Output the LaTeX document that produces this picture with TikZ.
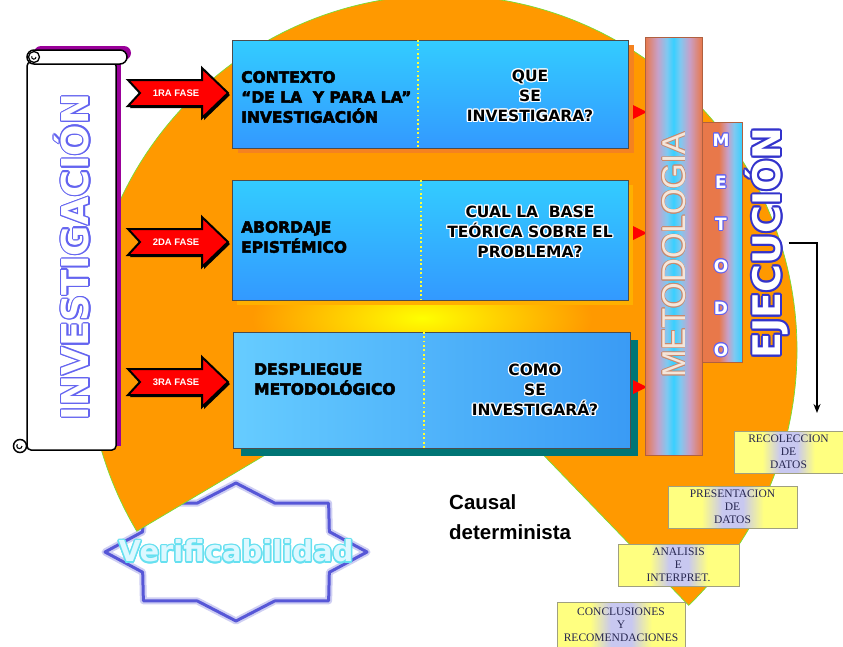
\documentclass[tikz,border=0pt]{standalone}
\usepackage{fontspec}
\setmainfont{Liberation Sans}
\newfontfamily\blk{DejaVu Sans}
\newfontfamily\serifx{Liberation Serif}
\usetikzlibrary{arrows.meta,shadows}
\definecolor{orng}{HTML}{FF9900}
\definecolor{pieline}{HTML}{77DD33}
\definecolor{cyanA}{HTML}{33CCFF}
\definecolor{blueA}{HTML}{3399FF}
\definecolor{lblueA}{HTML}{66CCFF}
\definecolor{blueB}{HTML}{3A9BF5}
\definecolor{shorng}{HTML}{F5821F}
\definecolor{shyell}{HTML}{FFB000}
\definecolor{shteal}{HTML}{007575}
\definecolor{metO}{HTML}{E8784A}
\definecolor{lavpink}{HTML}{C8A0C8}
\definecolor{lblue}{HTML}{80C8F0}
\definecolor{cyanB}{HTML}{38D0FF}
\definecolor{brn}{HTML}{B06040}
\definecolor{purp}{HTML}{990099}
\definecolor{yelb}{HTML}{FFFF80}
\definecolor{lav}{HTML}{C8C8F0}
\definecolor{ytxt}{HTML}{262650}
\definecolor{yborder}{HTML}{A0A080}
\definecolor{invO}{HTML}{6464F0}
\definecolor{ejB}{HTML}{3333CC}
\definecolor{verF}{HTML}{DDF8FF}
\definecolor{verO}{HTML}{66E0F0}
\definecolor{metT}{HTML}{F4E6DA}
\definecolor{metH}{HTML}{C88A70}
\definecolor{starB}{HTML}{3A3AD0}
\definecolor{divY}{HTML}{FFFF33}
\pgfdeclarehorizontalshading{metshade}{100bp}{color(0bp)=(metO); color(25bp)=(metO); color(36bp)=(lavpink); color(44bp)=(lblue); color(50bp)=(cyanB); color(56bp)=(lblue); color(64bp)=(lavpink); color(75bp)=(metO); color(100bp)=(metO)}
\pgfdeclarehorizontalshading{metodoshade}{100bp}{color(0bp)=(metO); color(25bp)=(metO); color(46bp)=(metO); color(57bp)=(lavpink); color(65bp)=(lblue); color(75bp)=(cyanB); color(100bp)=(cyanB)}
\pgfdeclarehorizontalshading{yshade}{100bp}{color(0bp)=(yelb); color(25bp)=(yelb); color(38bp)=(yelb); color(46bp)=(lav); color(54bp)=(lav); color(62bp)=(yelb); color(75bp)=(yelb); color(100bp)=(yelb)}
% heavier text: fill + thin stroke in the same colour
\newcommand\fillstroke[3]{\special{pdf:literal direct #1 RG #2 w 1 j 2 Tr}#3\special{pdf:literal direct 0 Tr}}
% halo: copies of the text around it, then the text itself
\newcommand\halonode[6]{%
  \foreach \ang in {0,30,...,330}{\node[#2,text=#4,shift={(\ang:#5)}] at #3 {#6};}
  \node[#2] (#1) at #3 {#6};}
\tikzset{
  bx/.style={draw=gray!60!black, line width=0.6pt, minimum width=396pt, inner sep=0pt},
  divline/.style={divY, line width=1.6pt, dash pattern=on 1.8pt off 2.6pt},
  ltxt/.style={font=\blk\bfseries\fontsize{15.5}{20}\selectfont, align=left, anchor=west, inner sep=0pt, text=black},
  rtxt/.style={font=\blk\bfseries\fontsize{15.5}{20}\selectfont, align=center, inner sep=0pt, text=black},
  fasetxt/.style={font=\bfseries\fontsize{9.5}{10}\selectfont, text=white, inner sep=0pt},
  ybox/.style={draw=yborder, line width=0.8pt, shading=yshade, font=\serifx\fontsize{11.5}{12.8}\selectfont, text=ytxt, align=center, inner sep=0pt, minimum height=42pt},
  metletter/.style={font=\blk\bfseries\fontsize{17}{17}\selectfont, text=white, inner sep=0pt},
  fasearrow/.pic={
    \fill[black] (-48,-11) -- (26,-11) -- (26,-23) -- (52,2) -- (26,27) -- (26,15) -- (-48,15) -- (-36,2) -- cycle;
    \draw[line width=2pt, fill=red, line join=miter] (-50,-13) -- (24,-13) -- (24,-25) -- (50,0) -- (24,25) -- (24,13) -- (-50,13) -- (-38,0) -- cycle;
  }
}
\begin{document}
\begin{tikzpicture}[x=1pt,y=-1pt]
\useasboundingbox (0,0) rectangle (843,646);
\clip (0,0) rectangle (843,646);
\fill[white] (0,0) rectangle (843,646);
% star behind Verificabilidad
\draw[starB!25, line width=7pt, line join=round, fill=white] plot[samples at={0,...,15}, variable=\k] ({236+(131-30*mod(\k,2))*cos(\k*22.5)}, {552+(69-16*mod(\k,2))*sin(\k*22.5)}) -- cycle;
\draw[starB!85, line width=3pt, line join=round] plot[samples at={0,...,15}, variable=\k] ({236+(131-30*mod(\k,2))*cos(\k*22.5)}, {552+(69-16*mod(\k,2))*sin(\k*22.5)}) -- cycle;
% orange pie
\fill[orng] (442,350) -- ++(46:355) arc[start angle=46, end angle=-210.7, radius=355] -- cycle;
\draw[pieline, line width=0.7pt] (442,350) ++(46:355) arc[start angle=46, end angle=-210.7, radius=355];
\draw[pieline, line width=0.7pt] (442,350) -- ++(46:355);
\draw[pieline, line width=0.7pt] (442,350) -- ++(149.3:355);
% yellow glow
\shade[inner color=yellow, outer color=orng] (422,318) ellipse [x radius=170, y radius=60];
% scroll
\fill[purp, rounded corners=7pt] (34,46) rectangle (131,60);
\fill[purp] (112,60) rectangle (121,446);
\node[draw=black, line width=1.5pt, fill=white, rounded corners=4pt, minimum width=89pt, minimum height=388pt, inner sep=0pt] (scroll) at (71.5,256) {};
\draw[line width=1.5pt, fill=white, rounded corners=7pt] (27,50) rectangle (127,64);
\draw[line width=1.3pt, fill=white] (34,57) circle (5.5);
\draw[line width=1pt] (36,57) arc[start angle=0, end angle=200, radius=2.2];
\draw[line width=1.5pt, fill=white] (20,446) circle (6.5);
\draw[line width=1.1pt] (22,446) arc[start angle=0, end angle=220, radius=2.6];
\halonode{inv}{rotate=90, font=\blk\bfseries\fontsize{37}{37}\selectfont, text=white, inner sep=0pt}{(72,257)}{invO}{1.3pt}{INVESTIGACIÓN}
% boxes
\node[bx, minimum height=108pt, top color=cyanA, bottom color=blueA, drop shadow={shadow xshift=6pt, shadow yshift=-5pt, fill=shorng, opacity=1}] (b1) at (430,94) {};
\node[bx, minimum height=120pt, top color=cyanA, bottom color=blueA, drop shadow={shadow xshift=5pt, shadow yshift=-5pt, fill=shyell, opacity=1}] (b2) at (430,240) {};
\node[bx, minimum width=397pt, minimum height=116pt, left color=lblueA, right color=blueB, drop shadow={shadow xshift=8pt, shadow yshift=-8pt, fill=shteal, opacity=1}] (b3) at (431.5,390) {};
\draw[divline] ([xshift=-12pt]b1.north) -- ([xshift=-12pt]b1.south);
\draw[divline] ([xshift=-9pt]b2.north) -- ([xshift=-9pt]b2.south);
\draw[divline] ([xshift=-7.5pt]b3.north) -- ([xshift=-7.5pt]b3.south);
\node[ltxt] (t1l) at (241,97) {\fillstroke{0 0 0}{0.5}{CONTEXTO\\“DE LA~ Y PARA LA”\\INVESTIGACIÓN}};
\node[ltxt] (t2l) at (241,237) {\fillstroke{0 0 0}{0.5}{ABORDAJE\\EPISTÉMICO}};
\node[ltxt] (t3l) at (254,379) {\fillstroke{0 0 0}{0.5}{DESPLIEGUE\\METODOLÓGICO}};
\halonode{t1r}{rtxt}{(530,96)}{white}{1.3pt}{QUE\\SE\\INVESTIGARA?}
\halonode{t2r}{rtxt}{(530,232)}{white}{1.3pt}{CUAL LA~ BASE\\TEÓRICA SOBRE EL\\PROBLEMA?}
\halonode{t3r}{rtxt}{(535,390)}{white}{1.3pt}{COMO\\SE\\INVESTIGARÁ?}
% red markers
\fill[red] (633,105) -- (647,112) -- (633,119) -- cycle;
\fill[red] (633,226) -- (647,233) -- (633,240) -- cycle;
\fill[red] (633,380) -- (647,387) -- (633,394) -- cycle;
% fase arrows
\pic at (178,93) {fasearrow};
\pic at (178,242) {fasearrow};
\pic at (178,382) {fasearrow};
\node[fasetxt] (f1) at (176,93) {1RA FASE};
\node[fasetxt] (f2) at (176,242) {2DA FASE};
\node[fasetxt] (f3) at (176,382) {3RA FASE};
% METODOLOGIA bar
\node[draw=brn, line width=0.8pt, shading=metshade, minimum width=57pt, minimum height=418pt, inner sep=0pt] (met) at (673.5,246) {};
\halonode{mett}{rotate=90, font=\fontsize{33}{33}\selectfont, text=metT, inner sep=0pt}{(674,255)}{metH}{0.6pt}{METODOLOGIA}
% METODO bar
\node[draw=brn, line width=0.8pt, shading=metodoshade, minimum width=40pt, minimum height=240pt, inner sep=0pt] (metodo) at (722,242) {};
\foreach \l/\yy [count=\i] in {M/140,E/182,T/224,O/266,D/308,O/350}{
  \halonode{ml\i}{metletter}{(721,\yy)}{invO}{1pt}{\l}
}
% EJECUCION
\halonode{ejec}{rotate=90, font=\blk\bfseries\fontsize{38}{38}\selectfont, text=white, inner sep=0pt}{(767,243)}{ejB}{2pt}{EJECUCIÓN}
\coordinate (arrEnd) at (817,413);
\draw[line width=1.5pt, -{Stealth[length=9pt,width=7pt]}] (ejec.south) -| (arrEnd);
% yellow boxes
\node[ybox, minimum width=109pt] (rec) at (788.5,452) {RECOLECCION\\DE\\DATOS};
\node[ybox, minimum width=129pt] (pres) at (732.5,507) {PRESENTACION\\DE\\DATOS};
\node[ybox, minimum width=121pt] (anal) at (678.5,565) {ANALISIS\\E\\INTERPRET.};
\node[ybox, minimum width=128pt, minimum height=46pt] (conc) at (621,625) {CONCLUSIONES\\Y\\RECOMENDACIONES};
% texts
\node[font=\bfseries\fontsize{20.5}{30}\selectfont, align=left, anchor=west, inner sep=0pt] (causal) at (449,517) {Causal\\determinista};
\halonode{verif}{font=\blk\bfseries\fontsize{29}{30}\selectfont, text=verF, inner sep=0pt}{(236,551)}{verO}{1.5pt}{Verificabilidad}
\end{tikzpicture}
\end{document}
